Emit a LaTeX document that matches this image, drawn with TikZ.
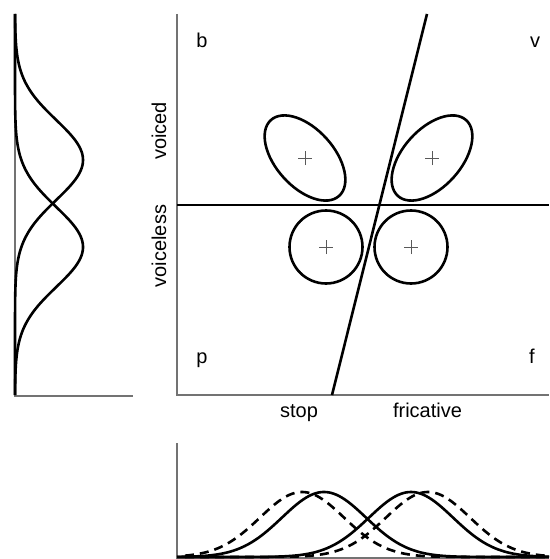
\documentclass[tikz,border=0pt]{standalone}
\usepackage{fontspec}
\setmainfont{Liberation Sans}
\begin{document}
\begin{tikzpicture}[x=1pt,y=-1pt,
  axisline/.style={line width=1.5pt,black!55},
  thickline/.style={line width=2.6pt,black,line cap=round},
  curveline/.style={line width=2.6pt,black},
  dashcurve/.style={line width=2.6pt,black,dash pattern=on 9pt off 6pt},
  plusmark/.style={line width=0.9pt,black!65},
  lbl/.style={font=\fontsize{20}{24}\selectfont,inner sep=0pt,anchor=base}]
\useasboundingbox (0,0) rectangle (549,559);

% ---------- main panel ----------
\coordinate (mTL) at (177,14);
\coordinate (mO) at (177,395);
\coordinate (mBR) at (549,395);
\draw[axisline] (mTL) -- (mO) -- (mBR);
\coordinate (hL) at (177,205);
\coordinate (hR) at (549,205);
\draw[thickline,line cap=butt] (hL) -- (hR);
\coordinate (sT) at (427,14);
\coordinate (sB) at (332,395);
\draw[thickline,line cap=butt] (sT) -- (sB);

\coordinate (cUL) at (305,158);
\coordinate (cUR) at (432,158);
\coordinate (cLL) at (326,247);
\coordinate (cLR) at (411,247);
\draw[curveline,rotate around={-48:(cUL)}] (cUL) ellipse [x radius=51,y radius=29];
\draw[curveline,rotate around={48:(cUR)}] (cUR) ellipse [x radius=51,y radius=29];
\draw[curveline] (cLL) circle [radius=36.5];
\draw[curveline] (cLR) circle [radius=36.5];
\foreach \c in {cUL,cUR,cLL,cLR}{
  \draw[plusmark] ([xshift=-7pt]\c) -- ([xshift=7pt]\c);
  \draw[plusmark] ([yshift=-7pt]\c) -- ([yshift=7pt]\c);
}

\node[lbl] (b) at (202,48) {b};
\node[lbl] (v) at (535,48) {v};
\node[lbl] (p) at (202,363) {p};
\node[lbl] (f) at (532,363) {f};
\node[lbl] (stop) at (299,417) {stop};
\node[lbl] (fric) at (427.5,417) {fricative};
\node[lbl,rotate=90] (voiced) at (166,131) {voiced};
\node[lbl,rotate=90] (voiceless) at (166,246) {voiceless};

% ---------- left panel ----------
\coordinate (lT) at (15,14);
\coordinate (lO) at (15,396);
\coordinate (lR) at (133,396);
\draw[axisline] (lT) -- (lO) -- (lR);
\draw[curveline] plot[domain=14:395,samples=160,smooth] ({15+68*exp(-0.5*((\x-160)/40)^2)},\x);
\draw[curveline] plot[domain=14:395,samples=160,smooth] ({15+68*exp(-0.5*((\x-247)/40)^2)},\x);

% ---------- bottom panel ----------
\coordinate (bT) at (177,443);
\coordinate (bO) at (177,558);
\coordinate (bR) at (549,558);
\draw[axisline] (bT) -- (bO) -- (bR);
\draw[curveline] plot[domain=177:549,samples=160,smooth] (\x,{557-65*exp(-0.5*((\x-324)/42)^2)});
\draw[curveline] plot[domain=177:549,samples=160,smooth] (\x,{557-65*exp(-0.5*((\x-411)/42)^2)});
\draw[dashcurve] plot[domain=185:549,samples=160,smooth] (\x,{557-65*exp(-0.5*((\x-302)/42)^2)});
\draw[dashcurve] plot[domain=185:549,samples=160,smooth] (\x,{557-65*exp(-0.5*((\x-428)/42)^2)});
\end{tikzpicture}
\end{document}
